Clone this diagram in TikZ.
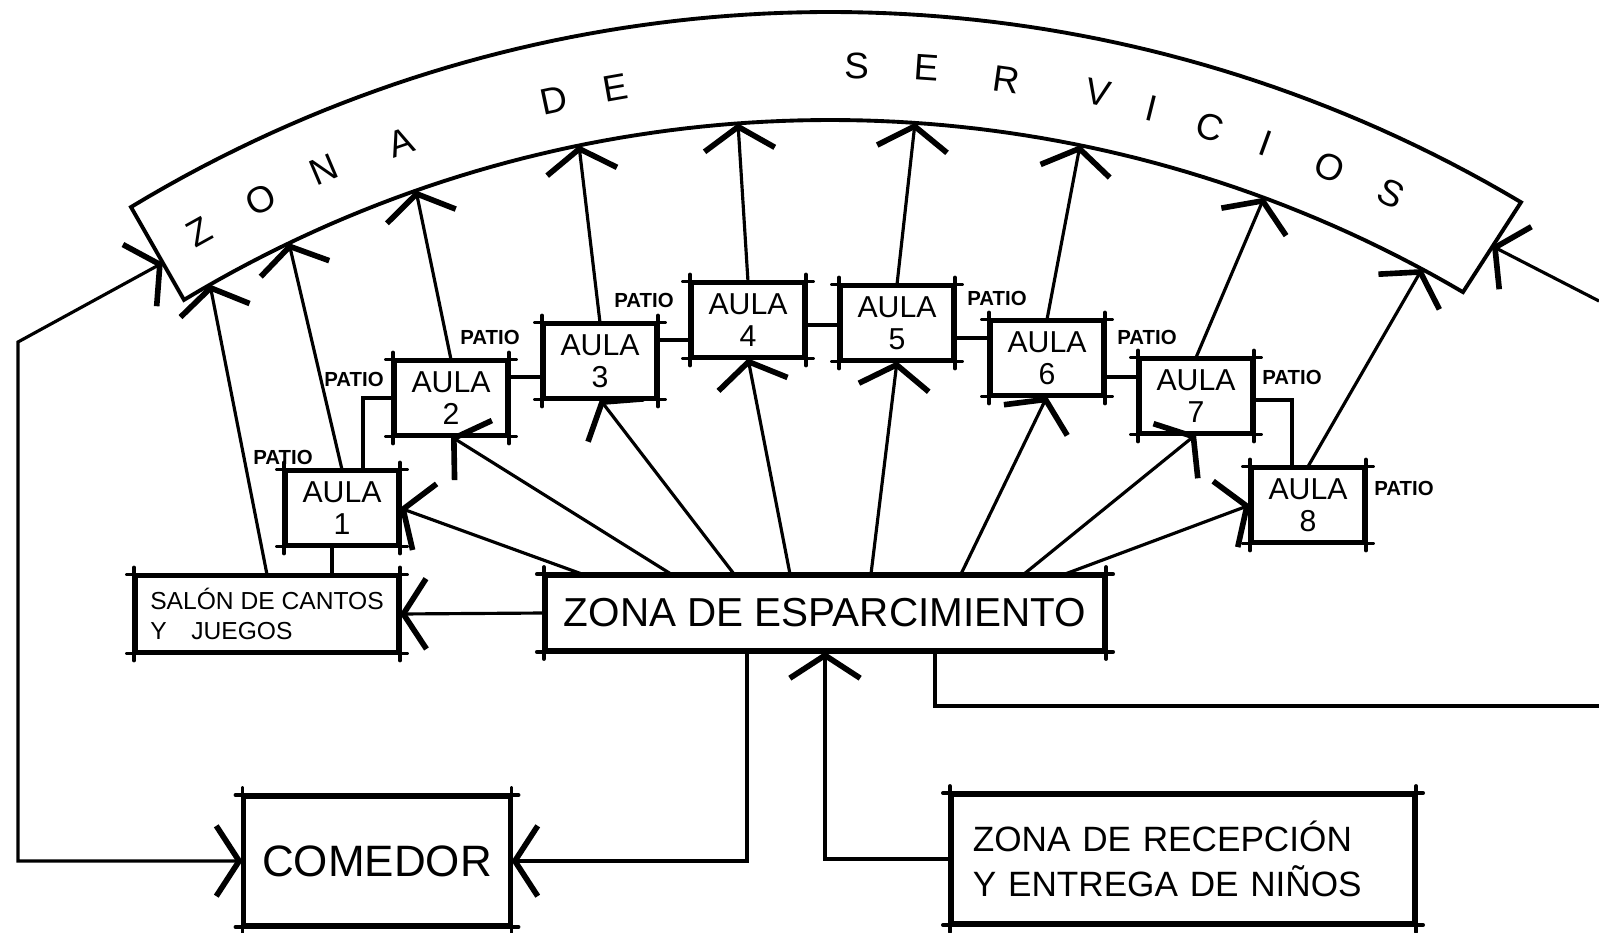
\documentclass[tikz,border=0pt]{standalone}
\usepackage{fontspec}
\setmainfont{Liberation Sans}
\usetikzlibrary{positioning, arrows.meta, calc}

\begin{document}
\begin{tikzpicture}[
    x=0.01cm, y=-0.01cm,
    line width=0.9pt,
    >={Straight Barb[length=6.5pt, width=20pt, line width=1.6pt]},
    box/.style={draw, line width=1.1pt, inner sep=0pt, align=center},
    aula/.style={box, minimum width=1.12cm, minimum height=0.73cm, font=\fontsize{8.6}{9}\selectfont},
    patio/.style={font=\fontsize{5.8}{6}\selectfont\bfseries, inner sep=0pt},
    letra/.style={font=\fontsize{10.5}{10}\selectfont, inner sep=0pt},
    esquina/.style={line width=1.1pt, line cap=round}
]
\path[fill=white, use as bounding box] (0,0) rectangle (1599,933);

% Zona de servicios
\foreach \n/\x in {0/210, 1/289, 2/416, 3/579, 4/738, 5/915, 6/1080, 7/1264, 8/1422}
    \coordinate (t\n) at (\x, {1370-1250*sqrt(1-((\x-830)/1250)^2)});
\coordinate (bl1) at (131,207);
\coordinate (bl2) at (184,300);
\coordinate (br1) at (1521,200);
\coordinate (br2) at (1463,292);
\draw[line width=1.1pt] plot[domain=131:1521, samples=80] (\x, {1362-1350*sqrt(1-((\x-830)/1350)^2)})
    -- plot[domain=184:1463, samples=80] ({1647-\x}, {1370-1250*sqrt(1-((1647-\x-830)/1250)^2)}) -- cycle;
\foreach \c/\x/\y/\r [count=\i] in {Z/199/232/29, O/261/200/26, N/324/170/23, A/401/142/19, D/554/100/12, E/615/88/10, S/857/66/-1, E/927/68/-4, R/1006/80/-8, V/1098/93/-12, I/1152/108/-14, C/1210/127/-17, I/1266/143/-20, O/1330/167/-23, S/1391/193/-26}
    \node[letra, rotate=\r] (zs\i) at (\x,\y) {\c};
\coordinate (ltip) at ($(bl1)!0.6!(bl2)$);
\coordinate (rtip) at ($(br1)!0.5!(br2)$);
\coordinate (lcorner) at (18,342);
\coordinate (rEdge) at (1599,301);
\coordinate (dEdge) at (1599,706);

% Aulas y zonas
\foreach \n/\x/\y in {1/342/508, 2/451/398, 3/600/361, 4/748/320, 5/897/323, 6/1047/358, 7/1196/396, 8/1308/505}
    \node[aula] (a\n) at (\x,\y) {AULA\\\n};
\node[box, minimum width=2.62cm, minimum height=0.75cm, align=left, font=\fontsize{7}{8.5}\selectfont] (salon) at (267,614) {SALÓN DE CANTOS\\Y\quad JUEGOS};
\node[box, minimum width=5.58cm, minimum height=0.74cm, font=\fontsize{11.5}{12}\selectfont] (zona) at (825,613) {ZONA DE ESPARCIMIENTO};
\node[box, minimum width=2.65cm, minimum height=1.28cm, font=\fontsize{12.5}{13}\selectfont] (comedor) at (377,861) {COMEDOR};
\node[box, minimum width=4.62cm, minimum height=1.28cm, align=left, text width=4.2cm, font=\fontsize{10}{13}\selectfont] (recep) at (1183,859) {ZONA DE RECEPCIÓN\\Y ENTREGA DE NIÑOS};
\foreach \b in {a1,a2,a3,a4,a5,a6,a7,a8,salon,zona,comedor,recep} {
    \draw[esquina] ([xshift=-0.07cm]\b.north west) -- ([xshift=0.07cm]\b.north east);
    \draw[esquina] ([xshift=-0.07cm]\b.south west) -- ([xshift=0.07cm]\b.south east);
    \draw[esquina] ([yshift=0.07cm]\b.north west) -- ([yshift=-0.07cm]\b.south west);
    \draw[esquina] ([yshift=0.07cm]\b.north east) -- ([yshift=-0.07cm]\b.south east);
}

% Patios
\foreach \x/\y [count=\i] in {283/457, 354/379, 490/337, 644/300, 997/298, 1147/337, 1292/377, 1404/488}
    \node[patio] (p\i) at (\x,\y) {PATIO};

% Hacia la zona de servicios
\draw[->] (salon.north) -- (t0);
\foreach \n in {1,...,8}
    \draw[->] (a\n.north) -- (t\n);

% Desde la zona de esparcimiento
\foreach \n/\x in {1/582, 2/671, 3/734, 4/790, 5/871, 6/961, 7/1024, 8/1065}
    \coordinate (z\n) at (zona.north -| \x,0);
\draw[->] (z1) -- (a1.east);
\foreach \n in {2,...,7}
    \draw[->] (z\n) -- (a\n.south);
\draw[->] (z8) -- (a8.west);
\draw[->] (zona.west) -- (salon.east);

% Enlaces entre aulas
\draw ([xshift=0.21cm]a1.north) |- (a2.west);
\draw (a2.east |- 0,377) -- (a3.west |- 0,377);
\draw (a3.east |- 0,340) -- (a4.west |- 0,340);
\draw (a4.east |- 0,325) -- (a5.west |- 0,325);
\draw (a5.east |- 0,338) -- (a6.west |- 0,338);
\draw (a6.east |- 0,377) -- (a7.west |- 0,377);
\draw (a7.east |- 0,400) -| ([xshift=-0.16cm]a8.north);
\draw ([xshift=-0.1cm]a1.south) -- ([xshift=-0.1cm]a1.south |- salon.north);

% Comedor, recepcion y bordes
\draw[<->] (ltip) -- (lcorner) |- (comedor.west);
\draw[->] (zona.south -| 747,0) |- (comedor.east);
\draw[->] (recep.west) -| (zona.south);
\draw (zona.south -| 935,0) |- (dEdge);
\draw[->] (rEdge) -- (rtip);

\end{tikzpicture}
\end{document}
